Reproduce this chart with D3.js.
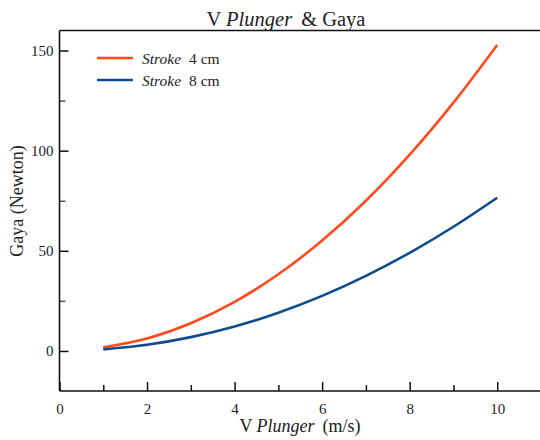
<!DOCTYPE html>
<html><head><meta charset="utf-8">
<script src="https://cdn.jsdelivr.net/npm/d3@7"></script>
<style>
body{margin:0;background:#fff;}
svg{display:block;font-family:"Liberation Serif","Times New Roman",serif;}
</style></head>
<body><svg id="c" width="540" height="440"></svg>
<script>
const xValues = [1, 2, 3, 4, 5, 6, 7, 8, 9, 10];
const stroke4 = [1.8, 6.2, 13.8, 24.5, 38.3, 55.1, 75.0, 98.0, 124.0, 152.8];
const stroke8 = [0.8, 3.1, 6.9, 12.2, 19.1, 27.5, 37.5, 49.0, 62.0, 76.5];
const seriesNames = ["4 cm", "8 cm"];
const seriesColors = ["#ff4a1e", "#0e4c8c"];
const xMajorTicks = [0, 2, 4, 6, 8, 10];
const xMinorTicks = [1, 3, 5, 7, 9];
const yMajorTicks = [0, 50, 100, 150];
const yMinorTicks = [25, 75, 125];

const svg = d3.select("#c");
const L = 59.5, R = 541, T = 30.5, B = 391;
const x = d3.scaleLinear().domain([0, 11]).range([L, R]);
const y = d3.scaleLinear().domain([-20, 160]).range([B, T]);

// axes
const gx = svg.append("g").attr("transform", `translate(0,${B})`)
  .call(d3.axisBottom(x).tickValues(xMajorTicks).tickSize(-9).tickPadding(12).tickFormat(d3.format("d")));
const gxm = svg.append("g").attr("transform", `translate(0,${B})`)
  .call(d3.axisBottom(x).tickValues(xMinorTicks).tickSize(-6).tickFormat(""));
const gy = svg.append("g").attr("transform", `translate(${L},0)`)
  .call(d3.axisLeft(y).tickValues(yMajorTicks).tickSize(-9).tickPadding(6).tickFormat(d3.format("d")));
const gym = svg.append("g").attr("transform", `translate(${L},0)`)
  .call(d3.axisLeft(y).tickValues(yMinorTicks).tickSize(-6).tickFormat(""));
[gx, gxm, gy, gym].forEach(g => {
  g.select(".domain").remove();
  g.selectAll(".tick line").attr("stroke", "#111").attr("stroke-width", 1.5);
  g.selectAll(".tick text").attr("font-family", "Liberation Serif").attr("font-size", 15).attr("fill", "#222");
});
gym.selectAll(".tick line").attr("stroke", "#555");

// frame lines
svg.append("line").attr("x1", L).attr("x2", L).attr("y1", T).attr("y2", B).attr("stroke", "#111").attr("stroke-width", 1.6);
svg.append("line").attr("x1", L).attr("x2", R).attr("y1", B).attr("y2", B).attr("stroke", "#111").attr("stroke-width", 1.6);
svg.append("line").attr("x1", L).attr("x2", R).attr("y1", T).attr("y2", T).attr("stroke", "#111").attr("stroke-width", 1.6);

// lines
const line = d3.line().x((d, i) => x(xValues[i])).y(d => y(d)).curve(d3.curveMonotoneX);
[stroke4, stroke8].forEach((s, k) => {
  svg.append("path").attr("d", line(s)).attr("fill", "none")
    .attr("stroke", seriesColors[k]).attr("stroke-width", 2.6);
});

// legend
seriesNames.forEach((n, k) => {
  const yy = 58 + k * 22;
  svg.append("line").attr("x1", 97).attr("x2", 133).attr("y1", yy).attr("y2", yy)
    .attr("stroke", seriesColors[k]).attr("stroke-width", 2.6);
  const t = svg.append("text").attr("x", 142).attr("y", yy + 6).attr("font-size", 15.5).attr("fill", "#222");
  t.append("tspan").attr("font-style", "italic").text("Stroke");
  t.append("tspan").attr("dx", 8).text(n);
});

// title
const title = svg.append("text").attr("x", 286).attr("y", 26).attr("text-anchor", "middle").attr("font-size", 20.5).attr("fill", "#222");
title.append("tspan").text("V ");
title.append("tspan").attr("font-style", "italic").text("Plunger");
title.append("tspan").attr("dx", 9).text("& Gaya");

// x label
const xl = svg.append("text").attr("x", 300).attr("y", 432).attr("text-anchor", "middle").attr("font-size", 18).attr("fill", "#222");
xl.append("tspan").text("V ");
xl.append("tspan").attr("font-style", "italic").text("Plunger");
xl.append("tspan").attr("dx", 8).text("(m/s)");

// y label
svg.append("text").attr("transform", "translate(23,201) rotate(-90)").attr("text-anchor", "middle")
  .attr("font-size", 18).attr("fill", "#222").text("Gaya (Newton)");
</script></body></html>
